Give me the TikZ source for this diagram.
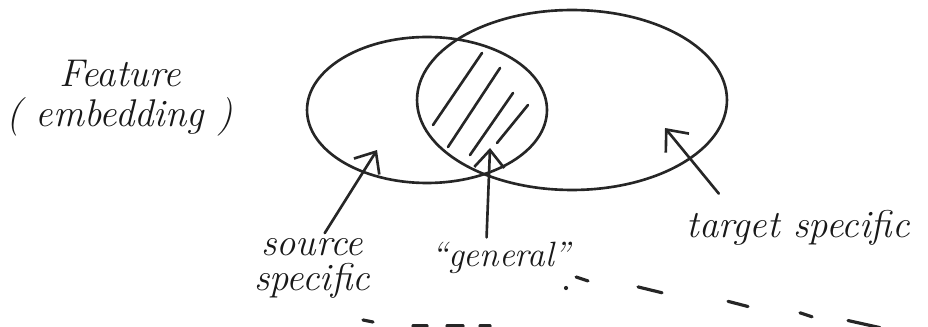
\documentclass[tikz,border=0pt]{standalone}
\usetikzlibrary{shapes.geometric,arrows.meta,positioning,calc}

\begin{document}
\begin{tikzpicture}[
    x=0.02cm, y=-0.02cm,
    line width=1.5pt, black!85,
    blob/.style={ellipse, draw, inner sep=0pt},
    pointer/.style={-{Straight Barb[length=3.5mm, width=6mm, line width=1.5pt]}, line cap=round},
    hatch/.style={line cap=round},
    lbl/.style={font=\fontsize{22}{25}\selectfont\itshape, align=center, inner sep=2pt, text=black!90},
    scrap/.style={line cap=round, line width=1.8pt},
]
\useasboundingbox (0,0) rectangle (928,327);

% ---------- the two sets ----------
\node[blob, minimum width=4.8cm, minimum height=2.92cm] (source) at (427,110) {};
\node[blob, minimum width=6.2cm, minimum height=3.6cm] (target) at (572,100) {};

% ---------- shared part ----------
\draw[hatch] (433,125) -- (482,53);
\draw[hatch] (448,147) -- (500,68);
\draw[hatch] (470,155) -- (513,93);
\draw[hatch] (497,143) -- (528,105);

% ---------- labels ----------
\node[lbl] (feat) at (120,98) {Feature\\[-2pt]( embedding )};
\node[lbl] (srclbl) at (312,268) {source\\[-5pt]specific};
\node[lbl, font=\fontsize{20}{23}\selectfont\itshape] (genlbl) at (501,258) {“general”};
\node[lbl] (tgtlbl) at (798,228) {target specific};

% ---------- pointers ----------
\coordinate (srcpt) at (377,150);
\coordinate (genpt) at (490,148);
\coordinate (tgtpt) at (665,128);
\draw[pointer] (srclbl.70) -- (srcpt);
\draw[pointer] (genlbl.125) -- (genpt);
\draw[pointer] ($(tgtlbl.north west)+(37,-12)$) -- (tgtpt);

% ---------- next line, cut off ----------
\foreach \a/\b in {576/588, 638/662, 728/748, 800/812, 848/880}
  \draw[scrap] (\a,{277+(\a-576)*0.16}) -- (\b,{279+(\b-576)*0.16});
\foreach \a/\b in {413/427, 447/463, 480/490}
  \draw[scrap] (\a,326) -- (\b,326);
\draw[scrap] (363,320) -- (373,322);
\fill (566,288) circle (1.2pt);

\end{tikzpicture}
\end{document}
